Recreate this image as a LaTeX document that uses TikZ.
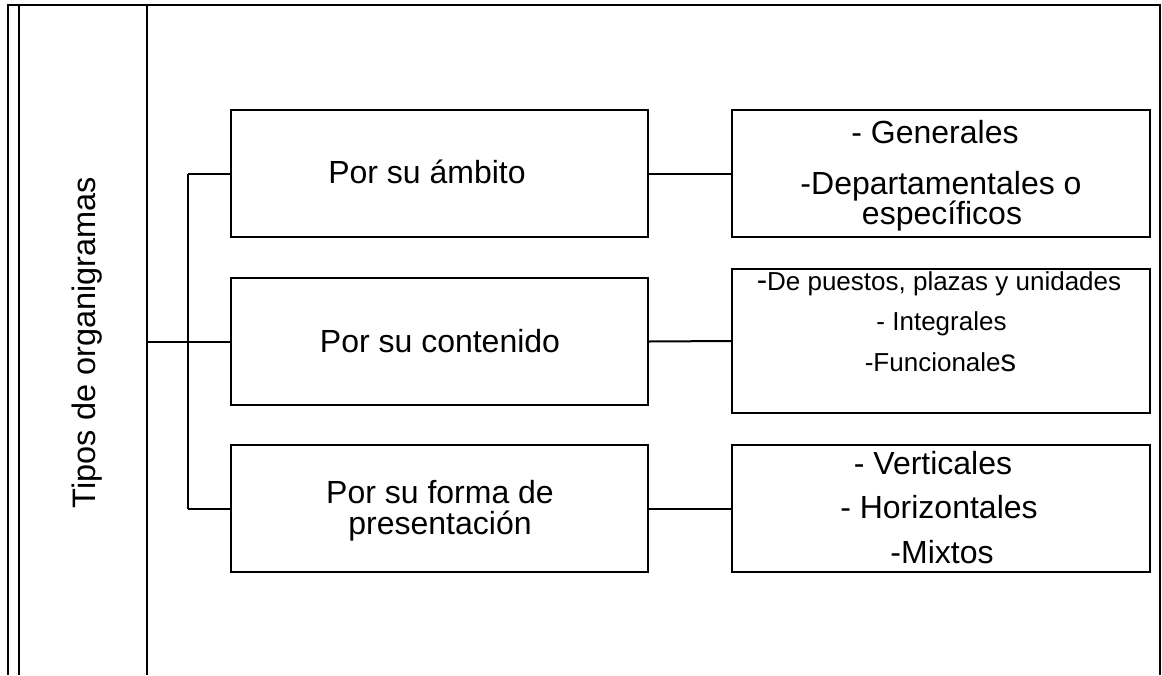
\documentclass[tikz,border=0pt]{standalone}
\usepackage{fontspec}
\setmainfont{Liberation Sans}
\begin{document}
\begin{tikzpicture}[x=1pt,y=-1pt,line width=2pt,
  box/.style={draw, rectangle, inner sep=0pt, line width=2pt},
  txt/.style={anchor=base, inner sep=0pt, font=\fontsize{32}{32}\selectfont},
  stxt/.style={anchor=base, inner sep=0pt, font=\fontsize{26}{26}\selectfont}]
\useasboundingbox (0,0) rectangle (1162,675);
% outer frame and title column
\draw (8,675) -- (8,5) -- (1160,5) -- (1160,675);
\draw (19,5) -- (19,675);
\draw (147,5) -- (147,675);
\node[txt, rotate=90, font=\fontsize{32.5}{32.5}\selectfont] (tipos) at (95,342.5) {Tipos de organigramas};
\coordinate (col) at (147,341.5);
% left boxes
\node[box, minimum width=417pt, minimum height=127pt] (b1) at (439.5,173.5) {};
\node[box, minimum width=417pt, minimum height=127pt] (b2) at (439.5,341.5) {};
\node[box, minimum width=417pt, minimum height=127pt] (b3) at (439.5,508.5) {};
% right boxes
\node[box, minimum width=418pt, minimum height=127pt] (r1) at (941,173.5) {};
\node[box, minimum width=418pt, minimum height=144pt] (r2) at (941,341) {};
\node[box, minimum width=418pt, minimum height=127pt] (r3) at (941,508.5) {};
% connectors
\coordinate (trunk1) at (188,173.5);
\coordinate (trunk3) at (188,508.5);
\draw (col) -- (b2.west);
\draw (trunk1) -- (trunk3);
\draw (trunk1) -- (b1.west);
\draw (trunk3) -- (b3.west);
\draw (b1.east) -- (r1.west);
\draw (b2.east) -- (r2.west);
\draw (b3.east) -- (r3.west);
% texts
\node[txt] (t1) at (427,183) {Por su ámbito};
\node[txt] (t2) at (440,352) {Por su contenido};
\node[txt] (t3a) at (440,503) {Por su forma de};
\node[txt] (t3b) at (440,534) {presentación};
\node[txt] (g1) at (935,143) {- Generales};
\node[txt] (g2) at (941,194) {-Departamentales o};
\node[txt] (g3) at (942,224) {específicos};
\node[stxt] (c1) at (939,290) {{\fontsize{31}{31}\selectfont -}De puestos, plazas y unidades};
\node[stxt] (c2) at (941.5,330) {- Integrales};
\node[stxt] (c3) at (940.5,371) {-Funcionale{\fontsize{31}{31}\selectfont s}};
\node[txt] (f1) at (933,474) {- Verticales};
\node[txt] (f2) at (939,518) {- Horizontales};
\node[txt] (f3) at (942,563) {-Mixtos};
\end{tikzpicture}
\end{document}
